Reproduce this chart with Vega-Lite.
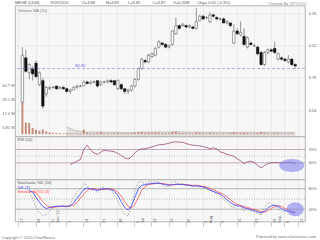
{
  "$schema": "https://vega.github.io/schema/vega-lite/v6.json",
  "padding": {"left": 0, "top": 0.5, "right": 0, "bottom": 0},
  "background": "white",
  "config": {
    "view": {"stroke": "#a4a4a4", "strokeWidth": 0.8, "fill": "#f7f7f7"},
    "font": "Liberation Sans",
    "axis": {"labelFontSize": 4, "labelColor": "#666666", "labelFont": "Liberation Sans", "titleFontSize": 4, "titleFontWeight": "normal", "titleColor": "#555555", "titleFont": "Liberation Sans", "labelOverlap": false},
    "title": {"fontSize": 4, "fontWeight": "normal", "color": "#555555", "font": "Liberation Sans"}
  },
  "data": {"values": [
    {"d":"2010-05-18","o":3.60,"h":4.01,"l":3.59,"c":3.95,"v":26.3},
    {"d":"2010-05-19","o":3.93,"h":3.99,"l":3.82,"c":3.83,"v":9.7},
    {"d":"2010-05-20","o":3.82,"h":3.89,"l":3.77,"c":3.88,"v":9.3,"fk":70,"k":75},
    {"d":"2010-05-21","o":3.85,"h":3.87,"l":3.76,"c":3.81,"v":5.2,"fk":50,"k":70,"dk":74},
    {"d":"2010-05-24","o":3.89,"h":3.91,"l":3.78,"c":3.79,"v":3.8,"fk":25,"k":55,"dk":68},
    {"d":"2010-05-25","o":3.73,"h":3.83,"l":3.72,"c":3.82,"v":3.0,"fk":10,"k":40,"dk":56},
    {"d":"2010-05-26","o":3.76,"h":3.78,"l":3.55,"c":3.57,"v":3.9,"fk":0,"k":28,"dk":42},
    {"d":"2010-05-27","o":3.66,"h":3.72,"l":3.64,"c":3.71,"v":2.2,"fk":5,"k":22,"dk":32},
    {"d":"2010-05-31","o":3.70,"h":3.72,"l":3.69,"c":3.71,"v":1.6,"fk":15,"k":25,"dk":26},
    {"d":"2010-06-01","o":3.71,"h":3.72,"l":3.70,"c":3.71,"v":1.2,"fk":25,"k":28,"dk":25},
    {"d":"2010-06-02","o":3.72,"h":3.72,"l":3.69,"c":3.70,"v":0.9,"fk":30,"k":28,"dk":27},
    {"d":"2010-06-03","o":3.70,"h":3.72,"l":3.70,"c":3.71,"v":0.7,"fk":28,"k":29,"dk":28},
    {"d":"2010-06-04","o":3.71,"h":3.72,"l":3.69,"c":3.70,"v":0.6,"fk":30,"k":29,"dk":29},
    {"d":"2010-06-07","o":3.70,"h":3.71,"l":3.67,"c":3.68,"v":1.0,"vma":5.8,"fk":25,"k":28,"dk":29},
    {"d":"2010-06-08","o":3.68,"h":3.70,"l":3.66,"c":3.69,"v":0.7,"vma":4.9,"rsi":25,"fk":35,"k":30,"dk":29},
    {"d":"2010-06-09","o":3.69,"h":3.72,"l":3.69,"c":3.71,"v":0.6,"vma":3.6,"rsi":30,"fk":55,"k":38,"dk":32},
    {"d":"2010-06-10","o":3.71,"h":3.73,"l":3.70,"c":3.72,"v":0.8,"vma":2.8,"rsi":35,"fk":70,"k":52,"dk":40},
    {"d":"2010-06-11","o":3.72,"h":3.73,"l":3.71,"c":3.72,"v":0.6,"vma":2.2,"rsi":40,"fk":80,"k":65,"dk":52},
    {"d":"2010-06-14","o":3.72,"h":3.76,"l":3.72,"c":3.75,"v":3.8,"vma":2.0,"rsi":70,"fk":95,"k":78,"dk":65},
    {"d":"2010-06-15","o":3.75,"h":3.76,"l":3.73,"c":3.74,"v":1.3,"vma":1.9,"rsi":83,"fk":90,"k":82,"dk":75},
    {"d":"2010-06-16","o":3.74,"h":3.76,"l":3.73,"c":3.75,"v":0.9,"vma":1.9,"rsi":68,"fk":75,"k":80,"dk":80},
    {"d":"2010-06-17","o":3.75,"h":3.76,"l":3.74,"c":3.75,"v":0.7,"vma":1.8,"rsi":60,"fk":78,"k":78,"dk":80},
    {"d":"2010-06-18","o":3.76,"h":3.76,"l":3.71,"c":3.72,"v":1.1,"vma":1.8,"rsi":55,"fk":70,"k":75,"dk":78},
    {"d":"2010-06-21","o":3.73,"h":3.76,"l":3.72,"c":3.75,"v":1.8,"vma":1.9,"rsi":62,"fk":85,"k":78,"dk":77},
    {"d":"2010-06-22","o":3.75,"h":3.76,"l":3.74,"c":3.75,"v":0.7,"vma":1.7,"rsi":68,"fk":82,"k":80,"dk":78},
    {"d":"2010-06-23","o":3.75,"h":3.77,"l":3.74,"c":3.76,"v":0.8,"vma":1.7,"rsi":66,"fk":80,"k":80,"dk":79},
    {"d":"2010-06-24","o":3.76,"h":3.77,"l":3.74,"c":3.75,"v":0.6,"vma":1.6,"rsi":65,"fk":75,"k":78,"dk":79},
    {"d":"2010-06-25","o":3.76,"h":3.76,"l":3.72,"c":3.73,"v":0.9,"vma":1.6,"rsi":63,"fk":60,"k":72,"dk":77},
    {"d":"2010-06-28","o":3.70,"h":3.77,"l":3.69,"c":3.76,"v":1.0,"vma":1.5,"rsi":58,"fk":45,"k":60,"dk":70},
    {"d":"2010-06-29","o":3.73,"h":3.74,"l":3.69,"c":3.70,"v":0.8,"vma":1.5,"rsi":52,"fk":20,"k":42,"dk":58},
    {"d":"2010-06-30","o":3.70,"h":3.70,"l":3.66,"c":3.68,"v":0.9,"vma":1.4,"rsi":45,"fk":5,"k":25,"dk":42},
    {"d":"2010-07-01","o":3.68,"h":3.70,"l":3.66,"c":3.69,"v":0.7,"vma":1.4,"rsi":42,"fk":0,"k":18,"dk":28},
    {"d":"2010-07-02","o":3.69,"h":3.73,"l":3.68,"c":3.72,"v":0.8,"vma":1.4,"rsi":48,"fk":30,"k":30,"dk":24},
    {"d":"2010-07-05","o":3.72,"h":3.78,"l":3.71,"c":3.77,"v":1.3,"vma":1.5,"rsi":60,"fk":75,"k":55,"dk":34},
    {"d":"2010-07-06","o":3.77,"h":3.86,"l":3.76,"c":3.85,"v":1.6,"vma":1.6,"rsi":68,"fk":100,"k":80,"dk":55},
    {"d":"2010-07-07","o":3.85,"h":3.93,"l":3.84,"c":3.92,"v":2.0,"vma":1.7,"rsi":72,"fk":100,"k":90,"dk":75},
    {"d":"2010-07-08","o":3.91,"h":3.92,"l":3.89,"c":3.90,"v":1.1,"vma":1.8,"rsi":72,"fk":95,"k":92,"dk":87},
    {"d":"2010-07-09","o":3.90,"h":3.96,"l":3.89,"c":3.95,"v":1.5,"vma":1.8,"rsi":75,"fk":100,"k":94,"dk":92},
    {"d":"2010-07-12","o":3.94,"h":3.97,"l":3.93,"c":3.96,"v":1.1,"vma":1.8,"rsi":78,"fk":100,"k":95,"dk":94},
    {"d":"2010-07-13","o":3.95,"h":4.01,"l":3.94,"c":4.00,"v":1.7,"vma":1.9,"rsi":81,"fk":100,"k":96,"dk":95},
    {"d":"2010-07-14","o":4.01,"h":4.06,"l":4.00,"c":4.05,"v":1.4,"vma":1.9,"rsi":84,"fk":100,"k":96,"dk":96},
    {"d":"2010-07-15","o":4.04,"h":4.05,"l":4.02,"c":4.03,"v":1.0,"vma":1.9,"rsi":85,"fk":92,"k":94,"dk":95},
    {"d":"2010-07-16","o":4.03,"h":4.04,"l":4.00,"c":4.01,"v":0.9,"vma":1.9,"rsi":86,"fk":85,"k":92,"dk":94},
    {"d":"2010-07-19","o":4.01,"h":4.03,"l":4.00,"c":4.02,"v":0.8,"vma":1.8,"rsi":89,"fk":88,"k":90,"dk":92},
    {"d":"2010-07-20","o":4.03,"h":4.14,"l":4.02,"c":4.13,"v":2.0,"vma":1.9,"rsi":92,"fk":100,"k":92,"dk":91},
    {"d":"2010-07-21","o":4.11,"h":4.23,"l":4.10,"c":4.17,"v":2.2,"vma":2.0,"rsi":93,"fk":100,"k":93,"dk":92},
    {"d":"2010-07-22","o":4.17,"h":4.18,"l":4.14,"c":4.15,"v":1.1,"vma":1.9,"rsi":92,"fk":92,"k":93,"dk":93},
    {"d":"2010-07-23","o":4.17,"h":4.19,"l":4.16,"c":4.18,"v":0.9,"vma":1.9,"rsi":92,"fk":95,"k":92,"dk":93},
    {"d":"2010-07-26","o":4.17,"h":4.18,"l":4.15,"c":4.16,"v":0.7,"vma":1.8,"rsi":88,"fk":88,"k":91,"dk":92},
    {"d":"2010-07-27","o":4.16,"h":4.18,"l":4.15,"c":4.17,"v":0.8,"vma":1.7,"rsi":85,"fk":90,"k":90,"dk":91},
    {"d":"2010-07-28","o":4.16,"h":4.17,"l":4.14,"c":4.15,"v":0.7,"vma":1.7,"rsi":83,"fk":85,"k":88,"dk":90},
    {"d":"2010-07-29","o":4.15,"h":4.30,"l":4.14,"c":4.20,"v":1.6,"vma":1.7,"rsi":82,"fk":92,"k":88,"dk":89},
    {"d":"2010-07-30","o":4.21,"h":4.25,"l":4.20,"c":4.24,"v":1.2,"vma":1.7,"rsi":81,"fk":90,"k":87,"dk":88},
    {"d":"2010-08-02","o":4.24,"h":4.25,"l":4.21,"c":4.22,"v":0.9,"vma":1.7,"rsi":79,"fk":82,"k":85,"dk":87},
    {"d":"2010-08-03","o":4.23,"h":4.24,"l":4.22,"c":4.23,"v":0.7,"vma":1.6,"rsi":76,"fk":80,"k":82,"dk":85},
    {"d":"2010-08-04","o":4.20,"h":4.27,"l":4.19,"c":4.25,"v":1.1,"vma":1.6,"rsi":72,"fk":75,"k":76,"dk":81},
    {"d":"2010-08-05","o":4.25,"h":4.26,"l":4.23,"c":4.24,"v":0.8,"vma":1.6,"rsi":75,"fk":70,"k":72,"dk":77},
    {"d":"2010-08-06","o":4.23,"h":4.24,"l":4.21,"c":4.22,"v":0.7,"vma":1.6,"rsi":72,"fk":65,"k":68,"dk":72},
    {"d":"2010-08-09","o":4.22,"h":4.23,"l":4.21,"c":4.22,"v":0.6,"vma":1.5,"rsi":63,"fk":60,"k":64,"dk":68},
    {"d":"2010-08-10","o":4.22,"h":4.23,"l":4.19,"c":4.19,"v":0.8,"vma":1.5,"rsi":60,"fk":48,"k":57,"dk":63},
    {"d":"2010-08-11","o":4.19,"h":4.21,"l":4.18,"c":4.20,"v":0.7,"vma":1.5,"rsi":55,"fk":42,"k":48,"dk":56},
    {"d":"2010-08-12","o":4.19,"h":4.19,"l":4.16,"c":4.17,"v":0.9,"vma":1.4,"rsi":53,"fk":30,"k":40,"dk":48},
    {"d":"2010-08-13","o":4.04,"h":4.18,"l":4.03,"c":4.13,"v":1.8,"vma":1.5,"rsi":50,"fk":25,"k":33,"dk":40},
    {"d":"2010-08-16","o":4.13,"h":4.15,"l":4.10,"c":4.11,"v":1.0,"vma":1.5,"rsi":42,"fk":35,"k":30,"dk":34},
    {"d":"2010-08-17","o":4.10,"h":4.20,"l":4.09,"c":4.12,"v":1.1,"vma":1.6,"rsi":36,"fk":30,"k":29,"dk":31},
    {"d":"2010-08-18","o":4.09,"h":4.15,"l":4.02,"c":4.03,"v":1.3,"vma":1.6,"rsi":28,"fk":15,"k":24,"dk":28},
    {"d":"2010-08-19","o":4.01,"h":4.09,"l":4.00,"c":4.08,"v":1.0,"vma":1.7,"rsi":33,"fk":22,"k":22,"dk":25},
    {"d":"2010-08-20","o":4.04,"h":4.05,"l":4.02,"c":4.03,"v":0.7,"vma":1.7,"rsi":35,"fk":15,"k":18,"dk":22},
    {"d":"2010-08-23","o":4.02,"h":4.03,"l":4.01,"c":4.02,"v":0.6,"vma":1.6,"rsi":31,"fk":12,"k":16,"dk":19},
    {"d":"2010-08-24","o":4.01,"h":4.02,"l":3.95,"c":3.96,"v":1.0,"vma":1.6,"rsi":22,"fk":8,"k":12,"dk":16},
    {"d":"2010-08-25","o":3.97,"h":3.98,"l":3.87,"c":3.88,"v":1.7,"vma":1.7,"rsi":15,"fk":2,"k":9,"dk":13},
    {"d":"2010-08-26","o":3.88,"h":3.98,"l":3.87,"c":3.97,"v":1.3,"vma":1.7,"rsi":22,"fk":25,"k":14,"dk":12},
    {"d":"2010-08-27","o":3.97,"h":4.00,"l":3.96,"c":3.99,"v":0.8,"vma":1.7,"rsi":28,"fk":40,"k":24,"dk":16},
    {"d":"2010-08-30","o":3.99,"h":4.00,"l":3.97,"c":3.98,"v":0.6,"vma":1.6,"rsi":30,"fk":38,"k":30,"dk":22},
    {"d":"2010-09-01","o":4.00,"h":4.05,"l":3.96,"c":3.97,"v":1.0,"vma":1.6,"rsi":31,"fk":30,"k":32,"dk":28},
    {"d":"2010-09-02","o":3.92,"h":3.97,"l":3.91,"c":3.96,"v":0.8,"vma":1.6,"rsi":30,"fk":20,"k":28,"dk":30},
    {"d":"2010-09-03","o":3.93,"h":3.94,"l":3.91,"c":3.92,"v":0.6,"vma":1.5,"rsi":30,"fk":15,"k":22,"dk":28},
    {"d":"2010-09-06","o":3.92,"h":3.93,"l":3.90,"c":3.91,"v":0.6,"vma":1.5,"rsi":31,"fk":12,"k":16,"dk":22},
    {"d":"2010-09-07","o":3.90,"h":3.95,"l":3.89,"c":3.92,"v":0.7,"vma":1.5,"rsi":32,"fk":15,"k":14,"dk":18},
    {"d":"2010-09-08","o":3.92,"h":3.93,"l":3.87,"c":3.88,"v":0.9,"vma":1.5,"rsi":30,"fk":8,"k":12,"dk":14},
    {"d":"2010-09-09","o":3.88,"h":3.89,"l":3.85,"c":3.87,"v":0.2,"vma":1.4,"rsi":28,"fk":5,"k":9,"dk":12}
  ]},
  "spacing": 0,
  "bounds": "flush",
  "resolve": {"scale": {"x": "shared"}, "axis": {"x": "independent"}},
  "vconcat": [
    {
      "width": 290,
      "height": 131,
      "title": {"text": "MEGB (5108)\u00a0\u00a0\u00a0\u00a0\u00a0\u00a0\u00a0\u00a0\u00a0\u00a09/09/2010\u00a0\u00a0\u00a0\u00a0\u00a0\u00a0\u00a0\u00a0\u00a0\u00a0\u00a0\u00a0O=3.88\u00a0\u00a0\u00a0\u00a0\u00a0\u00a0\u00a0\u00a0\u00a0\u00a0H=3.89\u00a0\u00a0\u00a0\u00a0\u00a0\u00a0\u00a0\u00a0L=3.85\u00a0\u00a0\u00a0\u00a0\u00a0\u00a0\u00a0\u00a0\u00a0\u00a0\u00a0C=3.87\u00a0\u00a0\u00a0\u00a0\u00a0\u00a0\u00a0V=0.20M\u00a0\u00a0\u00a0\u00a0\u00a0\u00a0\u00a0Chg=-0.01 (-0.3%)", "frame": "group", "anchor": "start", "offset": -4},
      "layer": [
        {
          "layer": [
            {
              "mark": {"type": "area", "color": "#d6d6d6", "line": {"color": "#aaaaaa", "strokeWidth": 0.6}},
              "encoding": {
                "x": {"field": "d", "type": "ordinal",
                  "scale": {"type": "band", "paddingInner": 0, "paddingOuter": 0.525, "align": 0.64,
                    "domain": ["2010-05-17","2010-05-18","2010-05-19","2010-05-20","2010-05-21","2010-05-24","2010-05-25","2010-05-26","2010-05-27","2010-05-31","2010-06-01","2010-06-02","2010-06-03","2010-06-04","2010-06-07","2010-06-08","2010-06-09","2010-06-10","2010-06-11","2010-06-14","2010-06-15","2010-06-16","2010-06-17","2010-06-18","2010-06-21","2010-06-22","2010-06-23","2010-06-24","2010-06-25","2010-06-28","2010-06-29","2010-06-30","2010-07-01","2010-07-02","2010-07-05","2010-07-06","2010-07-07","2010-07-08","2010-07-09","2010-07-12","2010-07-13","2010-07-14","2010-07-15","2010-07-16","2010-07-19","2010-07-20","2010-07-21","2010-07-22","2010-07-23","2010-07-26","2010-07-27","2010-07-28","2010-07-29","2010-07-30","2010-08-02","2010-08-03","2010-08-04","2010-08-05","2010-08-06","2010-08-09","2010-08-10","2010-08-11","2010-08-12","2010-08-13","2010-08-16","2010-08-17","2010-08-18","2010-08-19","2010-08-20","2010-08-23","2010-08-24","2010-08-25","2010-08-26","2010-08-27","2010-08-30","2010-09-01","2010-09-02","2010-09-03","2010-09-06","2010-09-07","2010-09-08","2010-09-09","2010-09-13","2010-09-14"]},
                  "axis": {"values": ["2010-05-17","2010-05-24","2010-05-31","2010-06-07","2010-06-14","2010-06-21","2010-06-28","2010-07-05","2010-07-12","2010-07-19","2010-07-26","2010-08-02","2010-08-09","2010-08-16","2010-08-23","2010-08-30","2010-09-06","2010-09-13"], "labels": false, "ticks": false, "domain": false, "grid": true, "gridColor": "#e2e2e2", "gridWidth": 0.6, "title": null, "bandPosition": 0.5}},
                "y": {"field": "vma", "type": "quantitative", "scale": {"domain": [-1.9, 106.8], "nice": false},
                  "axis": {"orient": "left", "values": [5.81, 11.62, 17.43, 23.24, 29.05, 34.86, 40.67, 46.48], "labelExpr": "format(datum.value, '.3r') + ' M'", "labelOverlap": false, "ticks": false, "domain": false, "grid": false, "labelPadding": 1, "title": "Volume MA (10)", "titleAngle": 0, "titleX": 3, "titleY": 5.5, "titleAlign": "left", "titleBaseline": "alphabetic", "titleColor": "#777777"}},
                "y2": {"datum": -1.9}
              }
            },
            {
              "mark": {"type": "bar", "color": "#c8907c", "width": {"band": 0.6}},
              "encoding": {
                "x": {"field": "d", "type": "ordinal"},
                "y": {"field": "v", "type": "quantitative"}
              }
            }
          ]
        },
        {
          "layer": [
            {
              "mark": {"type": "rule", "color": "#555555", "strokeWidth": 0.6},
              "encoding": {
                "x": {"field": "d", "type": "ordinal"},
                "y": {"field": "l", "type": "quantitative", "scale": {"domain": [3.344, 4.32], "nice": false, "zero": false},
                  "axis": {"orient": "right", "values": [3.54, 3.6, 3.66, 3.72, 3.78, 3.84, 3.9, 3.96, 4.02, 4.08, 4.14, 4.2, 4.26, 4.32], "format": ".2f", "labelOverlap": false, "ticks": false, "domain": false, "grid": true, "gridColor": "#e2e2e2", "gridWidth": 0.6, "labelPadding": 3, "title": "Charted By CPTOOO", "titleAngle": 0, "titleX": 1, "titleY": -1.5, "titleAlign": "right", "titleBaseline": "alphabetic", "titleColor": "#888888"}},
                "y2": {"field": "h"}
              }
            },
            {
              "mark": {"type": "bar", "width": {"band": 0.7}, "strokeWidth": 0.6},
              "encoding": {
                "x": {"field": "d", "type": "ordinal"},
                "y": {"field": "o", "type": "quantitative"},
                "y2": {"field": "c"},
                "fill": {"condition": {"test": "datum.c >= datum.o", "value": "#ffffff"}, "value": "#111111"},
                "stroke": {"condition": {"test": "datum.c >= datum.o", "value": "#666666"}, "value": "#111111"}
              }
            },
            {
              "data": {"values": [{"p": 3.85}]},
              "mark": {"type": "rule", "color": "#8c8cf0", "strokeDash": [3, 2], "strokeWidth": 0.7},
              "encoding": {"y": {"field": "p", "type": "quantitative"}}
            },
            {
              "data": {"values": [{"d": "2010-06-11", "p": 3.85, "t": "$3.85"}]},
              "mark": {"type": "text", "fontSize": 4, "color": "#6a6ae0", "dy": -2.6, "baseline": "middle"},
              "encoding": {
                "x": {"field": "d", "type": "ordinal"},
                "y": {"field": "p", "type": "quantitative"},
                "text": {"field": "t"}
              }
            }
          ]
        }
      ],
      "resolve": {"scale": {"y": "independent"}, "axis": {"y": "independent"}}
    },
    {
      "width": 290,
      "height": 43,
      "layer": [
        {
          "data": {"values": [{"lvl": 70}, {"lvl": 30}]},
          "mark": {"type": "rule", "color": "#ab8aa0", "strokeWidth": 0.7},
          "encoding": {
            "y": {"field": "lvl", "type": "quantitative", "scale": {"domain": [-20, 109], "nice": false, "zero": false},
              "axis": {"orient": "right", "values": [30, 70], "labelExpr": "datum.value + '%'", "labelOverlap": false, "ticks": false, "domain": false, "grid": false, "labelPadding": 3, "title": "RSI (14)", "titleAngle": 0, "titleX": -288, "titleY": 3, "titleAlign": "left", "titleBaseline": "middle"}}
          }
        },
        {
          "data": {"values": [{"lvl": 50}]},
          "mark": {"type": "rule", "color": "#aaaaaa", "strokeWidth": 0.7, "strokeDash": [1, 1.5]},
          "encoding": {"y": {"field": "lvl", "type": "quantitative", "axis": null}}
        },
        {
          "mark": {"type": "line", "color": "#9a4c78", "strokeWidth": 0.8},
          "encoding": {
            "x": {"field": "d", "type": "ordinal",
              "axis": {"values": ["2010-05-17","2010-05-24","2010-05-31","2010-06-07","2010-06-14","2010-06-21","2010-06-28","2010-07-05","2010-07-12","2010-07-19","2010-07-26","2010-08-02","2010-08-09","2010-08-16","2010-08-23","2010-08-30","2010-09-06","2010-09-13"], "labels": false, "ticks": false, "domain": false, "grid": true, "gridColor": "#e2e2e2", "gridWidth": 0.6, "title": null, "bandPosition": 0.5}},
            "y": {"field": "rsi", "type": "quantitative", "axis": null}
          }
        },
        {
          "data": {"values": [{"d": "2010-09-08", "val": 22}]},
          "mark": {"type": "point", "shape": "M-1,0A1,0.52,0,1,0,1,0A1,0.52,0,1,0,-1,0Z", "size": 625, "filled": true, "color": "#8383ee", "opacity": 0.6, "strokeWidth": 0},
          "encoding": {
            "x": {"field": "d", "type": "ordinal"},
            "y": {"field": "val", "type": "quantitative", "axis": null}
          }
        }
      ],
      "resolve": {"axis": {"y": "independent"}}
    },
    {
      "width": 290,
      "height": 42,
      "title": {"text": "Powered by www.chartnexus.com", "orient": "bottom", "anchor": "end", "frame": "bounds", "offset": -5, "color": "#777777"},
      "layer": [
        {
          "data": {"values": [{"lvl": 80}, {"lvl": 20}]},
          "mark": {"type": "rule", "color": "#999999", "strokeWidth": 0.7},
          "encoding": {
            "y": {"field": "lvl", "type": "quantitative", "scale": {"domain": [-16, 107], "nice": false, "zero": false},
              "axis": {"orient": "right", "values": [20, 80], "labelExpr": "datum.value + '%'", "labelOverlap": false, "ticks": false, "domain": false, "grid": false, "labelPadding": 3, "title": "Stochastic %K (14)", "titleAngle": 0, "titleX": -288, "titleY": 3, "titleAlign": "left", "titleBaseline": "middle"}}
          }
        },
        {
          "data": {"values": [{"lvl": 50}]},
          "mark": {"type": "rule", "color": "#999999", "strokeWidth": 0.7, "strokeDash": [1, 1.5]},
          "encoding": {"y": {"field": "lvl", "type": "quantitative", "axis": null}}
        },
        {
          "mark": {"type": "line", "color": "#777777", "strokeWidth": 0.6, "strokeDash": [1.5, 1.5]},
          "encoding": {
            "x": {"field": "d", "type": "ordinal",
              "axis": {"values": ["2010-05-17","2010-05-24","2010-05-31","2010-06-07","2010-06-14","2010-06-21","2010-06-28","2010-07-05","2010-07-12","2010-07-19","2010-07-26","2010-08-02","2010-08-09","2010-08-16","2010-08-23","2010-08-30","2010-09-06","2010-09-13"],
                "labelExpr": "['' + toNumber(substring(datum.value, 8, 10)), datum.value === '2010-05-31' ? \"Jun '10\" : datum.value === '2010-07-05' ? 'Jul' : datum.value === '2010-08-02' ? 'Aug' : datum.value === '2010-08-30' ? 'Sep' : '']",
                "labelAlign": "left", "labelBaseline": "top", "labelPadding": -4, "labelOffset": 1.2, "labelLineHeight": 5, "labelOverlap": false, "labelFlush": false,
                "ticks": true, "tickSize": 5, "tickColor": "#aaaaaa", "tickWidth": 0.6, "domain": false,
                "grid": true, "gridColor": "#e2e2e2", "gridWidth": 0.6, "bandPosition": 0.5,
                "title": "Copyright \u00a9 2010 ChartNexus", "titleX": -14, "titleY": 17, "titleAlign": "left", "titleBaseline": "alphabetic", "titleColor": "#777777"}},
            "y": {"field": "fk", "type": "quantitative", "axis": null}
          }
        },
        {
          "mark": {"type": "line", "color": "#ff5050", "strokeWidth": 0.8},
          "encoding": {
            "x": {"field": "d", "type": "ordinal"},
            "y": {"field": "dk", "type": "quantitative",
              "axis": {"orient": "left", "labels": false, "ticks": false, "domain": false, "grid": false, "title": "Smoothed %D (3)", "titleColor": "#ff4a4a", "titleAngle": 0, "titleX": 2, "titleY": 12, "titleAlign": "left", "titleBaseline": "middle"}}
          }
        },
        {
          "mark": {"type": "line", "color": "#3040ff", "strokeWidth": 0.8},
          "encoding": {
            "x": {"field": "d", "type": "ordinal"},
            "y": {"field": "k", "type": "quantitative",
              "axis": {"orient": "left", "labels": false, "ticks": false, "domain": false, "grid": false, "title": "%K (3)", "titleColor": "#3040ff", "titleAngle": 0, "titleX": 2, "titleY": 7.5, "titleAlign": "left", "titleBaseline": "middle"}}
          }
        },
        {
          "data": {"values": [{"d": "2010-09-09", "val": 20}]},
          "mark": {"type": "point", "shape": "M-1,0A1,0.82,0,1,0,1,0A1,0.82,0,1,0,-1,0Z", "size": 289, "filled": true, "color": "#8383ee", "opacity": 0.6, "strokeWidth": 0},
          "encoding": {
            "x": {"field": "d", "type": "ordinal"},
            "y": {"field": "val", "type": "quantitative", "axis": null}
          }
        }
      ],
      "resolve": {"axis": {"y": "independent"}}
    }
  ]
}
